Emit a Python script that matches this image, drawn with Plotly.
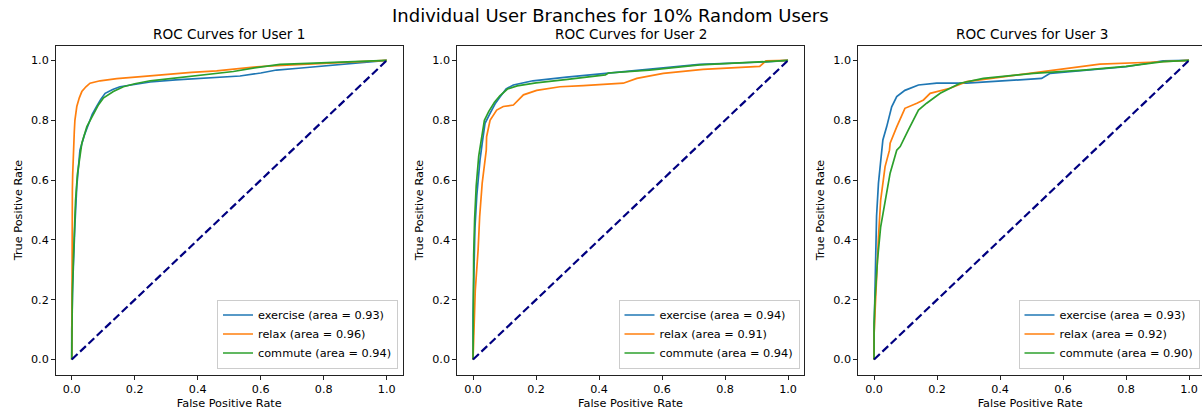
import plotly.graph_objects as go

# ---- data: ROC points per user and class ----
classes = ["exercise", "relax", "commute"]
colors = ["#1f77b4", "#ff7f0e", "#2ca02c"]

u1_auc = [0.93, 0.96, 0.94]
u1_exercise_fpr = [0, 0, 0.003, 0.006, 0.010, 0.016, 0.026, 0.040, 0.053, 0.065, 0.079, 0.092, 0.106, 0.130, 0.153, 0.200, 0.249, 0.330, 0.408, 0.470, 0.534, 0.600, 0.650, 0.720, 0.777, 0.880, 1.0]
u1_exercise_tpr = [0, 0.10, 0.25, 0.36, 0.45, 0.58, 0.70, 0.75, 0.79, 0.82, 0.846, 0.87, 0.89, 0.903, 0.912, 0.921, 0.928, 0.935, 0.940, 0.944, 0.948, 0.958, 0.968, 0.974, 0.979, 0.990, 1.0]
u1_relax_fpr = [0, 0, 0.001, 0.002, 0.003, 0.005, 0.008, 0.010, 0.016, 0.024, 0.032, 0.045, 0.058, 0.090, 0.143, 0.220, 0.300, 0.380, 0.460, 0.520, 0.587, 0.650, 0.725, 1.0]
u1_relax_tpr = [0, 0.10, 0.34, 0.57, 0.62, 0.70, 0.76, 0.80, 0.846, 0.875, 0.896, 0.912, 0.924, 0.932, 0.939, 0.946, 0.954, 0.960, 0.965, 0.972, 0.979, 0.983, 0.987, 1.0]
u1_commute_fpr = [0, 0, 0.002, 0.005, 0.008, 0.012, 0.018, 0.026, 0.032, 0.048, 0.069, 0.085, 0.100, 0.132, 0.164, 0.200, 0.249, 0.310, 0.376, 0.450, 0.513, 0.580, 0.661, 0.750, 0.830, 1.0]
u1_commute_tpr = [0, 0.10, 0.22, 0.33, 0.43, 0.53, 0.62, 0.69, 0.723, 0.779, 0.823, 0.852, 0.874, 0.896, 0.912, 0.922, 0.932, 0.939, 0.946, 0.955, 0.963, 0.975, 0.987, 0.990, 0.994, 1.0]

u2_auc = [0.94, 0.91, 0.94]
u2_exercise_fpr = [0, 0, 0.003, 0.006, 0.012, 0.022, 0.030, 0.038, 0.054, 0.070, 0.086, 0.105, 0.128, 0.190, 0.297, 0.424, 0.562, 0.720, 0.930, 1.0]
u2_exercise_tpr = [0, 0.15, 0.30, 0.44, 0.55, 0.667, 0.73, 0.79, 0.823, 0.855, 0.879, 0.905, 0.918, 0.932, 0.944, 0.957, 0.970, 0.987, 0.995, 1.0]
u2_relax_fpr = [0, 0.003, 0.007, 0.016, 0.021, 0.029, 0.042, 0.043, 0.054, 0.075, 0.096, 0.128, 0.144, 0.160, 0.202, 0.276, 0.350, 0.477, 0.520, 0.604, 0.730, 0.910, 0.930, 1.0]
u2_relax_tpr = [0, 0.076, 0.23, 0.366, 0.478, 0.59, 0.70, 0.745, 0.80, 0.834, 0.846, 0.851, 0.868, 0.885, 0.900, 0.912, 0.916, 0.924, 0.940, 0.957, 0.970, 0.980, 0.999, 1.0]
u2_commute_fpr = [0, 0, 0.002, 0.005, 0.010, 0.018, 0.028, 0.036, 0.050, 0.068, 0.085, 0.110, 0.140, 0.200, 0.300, 0.420, 0.430, 0.560, 0.720, 0.930, 1.0]
u2_commute_tpr = [0, 0.20, 0.35, 0.47, 0.58, 0.68, 0.75, 0.80, 0.83, 0.86, 0.882, 0.905, 0.915, 0.925, 0.937, 0.952, 0.958, 0.968, 0.985, 0.996, 1.0]

u3_auc = [0.93, 0.92, 0.90]
u3_exercise_fpr = [0, 0, 0.003, 0.006, 0.008, 0.014, 0.024, 0.028, 0.040, 0.056, 0.072, 0.098, 0.141, 0.199, 0.294, 0.400, 0.532, 0.559, 0.664, 0.800, 0.918, 1.0]
u3_exercise_tpr = [0, 0.076, 0.23, 0.37, 0.48, 0.59, 0.70, 0.734, 0.778, 0.845, 0.879, 0.900, 0.918, 0.924, 0.924, 0.932, 0.940, 0.957, 0.966, 0.979, 0.999, 1.0]
u3_relax_fpr = [0, 0, 0.003, 0.008, 0.014, 0.021, 0.035, 0.049, 0.051, 0.072, 0.098, 0.136, 0.157, 0.178, 0.241, 0.294, 0.400, 0.559, 0.717, 0.876, 1.0]
u3_relax_tpr = [0, 0.08, 0.155, 0.277, 0.41, 0.533, 0.645, 0.70, 0.723, 0.778, 0.840, 0.857, 0.868, 0.890, 0.907, 0.929, 0.944, 0.965, 0.988, 0.994, 1.0]
u3_commute_fpr = [0, 0, 0.003, 0.011, 0.021, 0.035, 0.051, 0.072, 0.083, 0.109, 0.141, 0.167, 0.210, 0.273, 0.347, 0.506, 0.664, 0.800, 0.918, 1.0]
u3_commute_tpr = [0, 0.12, 0.20, 0.333, 0.444, 0.533, 0.623, 0.70, 0.712, 0.768, 0.834, 0.857, 0.890, 0.924, 0.940, 0.957, 0.968, 0.980, 0.996, 1.0]

chance_line = [0, 1]
tick_vals = [0.0, 0.2, 0.4, 0.6, 0.8, 1.0]

users = [
    ("ROC Curves for User 1", u1_auc,
     [(u1_exercise_fpr, u1_exercise_tpr), (u1_relax_fpr, u1_relax_tpr), (u1_commute_fpr, u1_commute_tpr)]),
    ("ROC Curves for User 2", u2_auc,
     [(u2_exercise_fpr, u2_exercise_tpr), (u2_relax_fpr, u2_relax_tpr), (u2_commute_fpr, u2_commute_tpr)]),
    ("ROC Curves for User 3", u3_auc,
     [(u3_exercise_fpr, u3_exercise_tpr), (u3_relax_fpr, u3_relax_tpr), (u3_commute_fpr, u3_commute_tpr)]),
]

# ---- page geometry (pixels) ----
W, H = 1202, 411
unit = 315.0                      # pixels per unit of rate
panel_left = [56.0, 457.3, 858.3]
ax_top, ax_bottom = 45.5, 374.5
title_centers = [229.0, 630.5, 1031.5]
legend_right = [398.0, 799.5, 1199.5]
legend_bottom = 368.5
FONT = "DejaVu Sans"

fig = go.Figure()
layout_axes = {}

for i, (title, aucs, curves) in enumerate(users):
    n = "" if i == 0 else str(i + 1)
    xa, ya = "x" + n, "y" + n
    left = panel_left[i]
    right = min(left + 1.1 * unit, W)
    xmax = -0.05 + (right - left) / unit
    leg = "legend" + n

    for cls, col, auc, (fpr, tpr) in zip(classes, colors, aucs, curves):
        fig.add_trace(go.Scatter(
            x=fpr, y=tpr, mode="lines", xaxis=xa, yaxis=ya,
            line=dict(color=col, width=1.7),
            name=f"{cls} (area = {auc:.2f})", legend=leg, showlegend=True,
        ))
    fig.add_trace(go.Scatter(
        x=chance_line, y=chance_line, mode="lines", xaxis=xa, yaxis=ya,
        line=dict(color="navy", width=2.2, dash="8px,3.5px"),
        showlegend=False, hoverinfo="skip",
    ))

    axis_common = dict(
        showgrid=False, zeroline=False, showline=True, mirror=True,
        linecolor="#222222", linewidth=1, ticks="outside", ticklen=4,
        tickwidth=1, tickcolor="#222222", tickvals=tick_vals, tickformat=".1f",
        tickfont=dict(family=FONT, size=11.2, color="#000000"),
    )
    layout_axes["xaxis" + n] = dict(
        axis_common, domain=[left / W, right / W], range=[-0.05, xmax],
        anchor=ya,
        title=dict(text="False Positive Rate", standoff=4,
                   font=dict(family=FONT, size=11.3, color="#000000")),
    )
    layout_axes["yaxis" + n] = dict(
        axis_common, domain=[1 - ax_bottom / H, 1 - ax_top / H], range=[-0.05, 1.05],
        anchor=xa,
        title=dict(text="True Positive Rate", standoff=6,
                   font=dict(family=FONT, size=11.3, color="#000000")),
    )
    layout_axes[leg] = dict(
        x=legend_right[i] / W, y=1 - legend_bottom / H, xanchor="right", yanchor="bottom",
        bgcolor="rgba(255,255,255,0.8)", bordercolor="#cccccc", borderwidth=1,
        font=dict(family=FONT, size=11.3, color="#000000"),
    )

annotations = [
    dict(text=t, x=c / W, y=1 - 43.5 / H, xref="paper", yref="paper",
         xanchor="center", yanchor="bottom", showarrow=False,
         font=dict(family=FONT, size=13.6, color="#000000"))
    for t, c in zip([u[0] for u in users], title_centers)
]
annotations.append(dict(
    text="Individual User Branches for 10% Random Users", x=610 / W, y=1 - 2.5 / H,
    xref="paper", yref="paper", xanchor="center", yanchor="top", showarrow=False,
    font=dict(family=FONT, size=18, color="#000000"),
))

fig.update_layout(
    width=W, height=H, margin=dict(l=0, r=0, t=0, b=0),
    paper_bgcolor="white", plot_bgcolor="white",
    font=dict(family=FONT, color="#000000"),
    annotations=annotations,
    **layout_axes,
)

fig.write_html("out.html")
